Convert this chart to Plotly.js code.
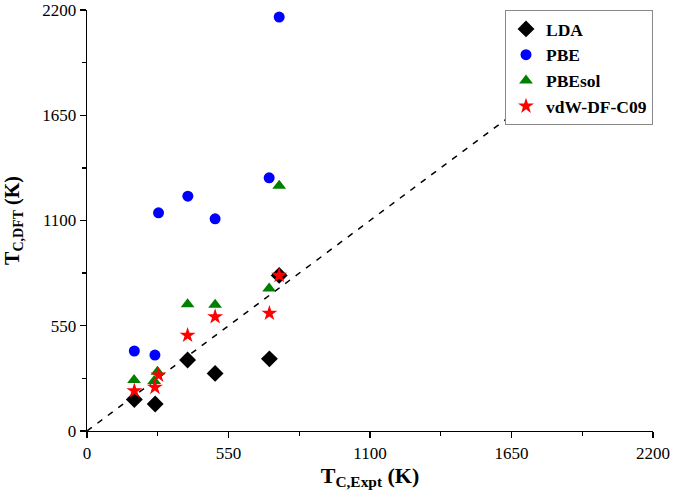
<!DOCTYPE html>
<html>
<head>
<meta charset="utf-8">
<script src="https://cdn.plot.ly/plotly-3.0.1.min.js"></script>
<style>html,body{margin:0;padding:0;background:#fff;}#chart{width:675px;height:496px;}</style>
</head>
<body>
<div id="chart"></div>
<script>
var ldaX = [184, 265, 391, 498, 709, 747];
var ldaY = [165, 141, 371, 301, 377, 813];
var pbeX = [184, 264, 278, 392, 498, 708, 747];
var pbeY = [418, 397, 1140, 1227, 1109, 1323, 2163];
var pbesolX = [183, 261, 274, 391, 498, 708, 747];
var pbesolY = [266, 261, 310, 663, 660, 745, 1281];
var vdwX = [184, 264, 278, 391, 498, 709, 747];
var vdwY = [210, 228, 292, 500, 597, 615, 813];
var refLine = [0, 2200];
var tickVals = [0, 550, 1100, 1650, 2200];

var font = "'Liberation Serif', 'Times New Roman', serif";

var traces = [
  {x: refLine, y: refLine, mode: 'lines', showlegend: false, hoverinfo: 'skip',
   line: {color: '#000', width: 1.5, dash: '6px,7px'}},
  {x: ldaX, y: ldaY, mode: 'markers', name: '<b>LDA</b>',
   marker: {symbol: 'diamond', size: 13, color: '#000'}},
  {x: pbeX, y: pbeY, mode: 'markers', name: '<b>PBE</b>',
   marker: {symbol: 'circle', size: 11, color: '#0000ff'}},
  {x: pbesolX, y: pbesolY, mode: 'markers', name: '<b>PBEsol</b>',
   marker: {symbol: 'triangle-up', size: 12, color: '#008000'}},
  {x: vdwX, y: vdwY, mode: 'markers', name: '<b>vdW-DF-C09</b>',
   marker: {symbol: 'star', size: 12, color: '#ff0000'}}
];

var axisCommon = {
  range: [0, 2200], tickvals: tickVals, showgrid: false, zeroline: false,
  showline: true, linecolor: '#000', linewidth: 1.3,
  ticks: 'outside', ticklen: 6, tickwidth: 1.3, tickcolor: '#000',
  minor: {ticks: 'outside', ticklen: 4, tickwidth: 1.3, tickcolor: '#000', dtick: 275, tick0: 0, showgrid: false},
  tickfont: {family: font, size: 17, color: '#000'}
};

var layout = {
  width: 675, height: 496,
  margin: {l: 87, r: 22, t: 10, b: 65},
  paper_bgcolor: '#fff', plot_bgcolor: '#fff',
  font: {family: font, color: '#000'},
  showlegend: true,
  legend: {x: 1.0, y: 1.0, xanchor: 'right', yanchor: 'top',
    bgcolor: '#fff', bordercolor: '#888', borderwidth: 1,
    font: {family: font, size: 17.5, color: '#000'}, tracegroupgap: 0, itemwidth: 30},
  xaxis: Object.assign({}, axisCommon, {
    title: {text: '<b>T<sub>C,Expt</sub> (K)</b>', font: {family: font, size: 22, color: '#000'}, standoff: 0}
  }),
  yaxis: Object.assign({}, axisCommon, {
    title: {text: '<b>T<sub>C,DFT</sub> (K)</b>', font: {family: font, size: 20, color: '#000'}, standoff: 17}
  })
};

Plotly.newPlot('chart', traces, layout, {displayModeBar: false, staticPlot: true});
</script>
</body>
</html>
